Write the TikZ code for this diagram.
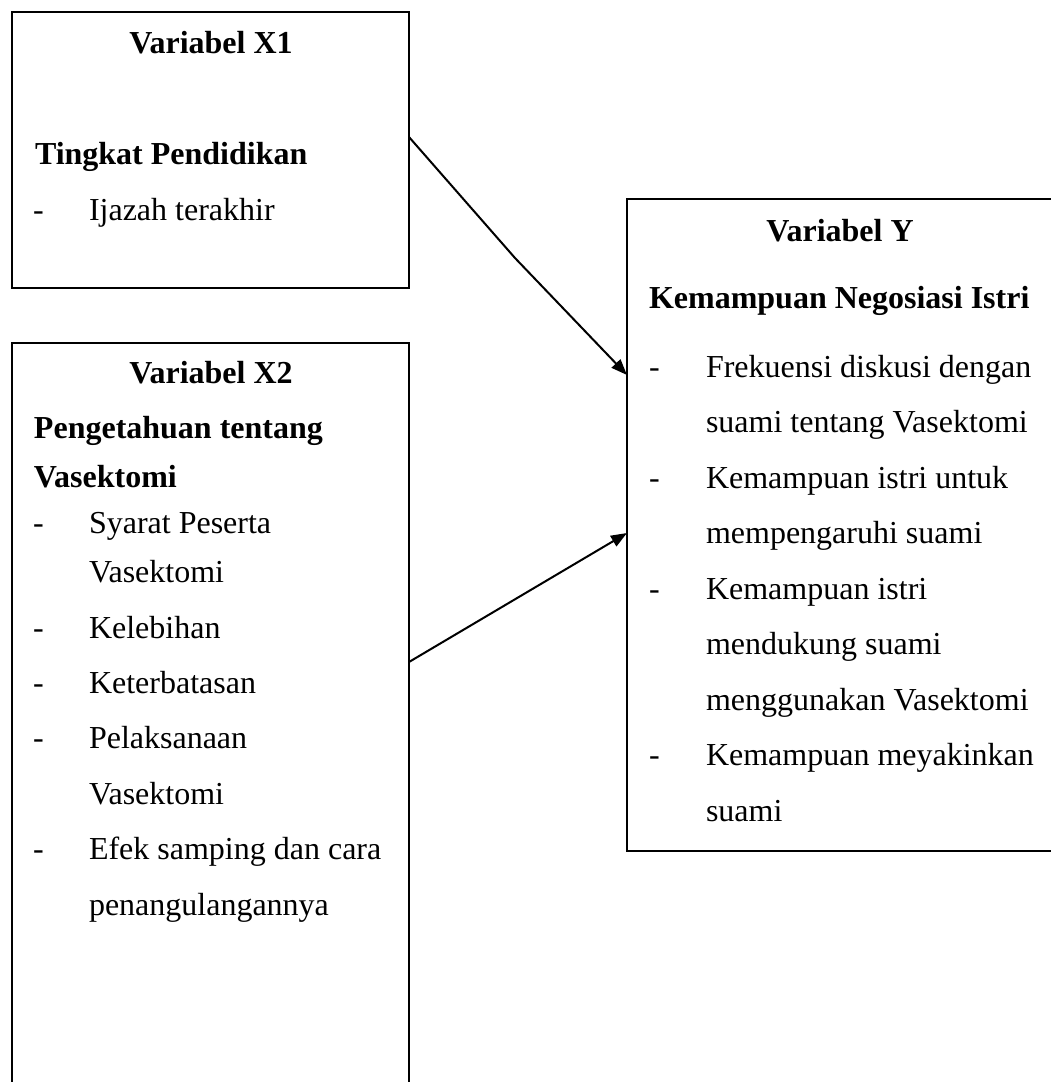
\documentclass[tikz,border=0pt]{standalone}
\usepackage{fontspec}
\setmainfont{Liberation Serif}
\usetikzlibrary{arrows.meta,calc}
\begin{document}
\begin{tikzpicture}[x=1pt,y=-1pt,
  box/.style={draw=black,line width=2pt,inner sep=0pt,outer sep=0pt,anchor=north west},
  txt/.style={inner sep=0pt,outer sep=0pt,anchor=base west,font=\fontsize{32pt}{38pt}\selectfont},
  ttl/.style={txt,anchor=base,font=\fontsize{32pt}{38pt}\selectfont\bfseries},
  hd/.style={txt,font=\fontsize{32pt}{38pt}\selectfont\bfseries},
  conn/.style={line width=2pt,-{Triangle[length=16pt,width=12pt]}}]
\useasboundingbox (0,0) rectangle (1051,1082);
\clip (0,0) rectangle (1051,1082);
\fill[white] (0,0) rectangle (1051,1082);
% boxes
\node[box,minimum width=397pt,minimum height=276pt] (x1) at (12,12) {};
\node[box,minimum width=397pt,minimum height=770pt] (x2) at (12,343) {};
\node[box,minimum width=440pt,minimum height=652pt] (y) at (627,199) {};
% X1 text
\node[ttl] (x1t) at (211,53) {Variabel X1};
\node[hd] (x1h) at (35,164) {Tingkat Pendidikan};
\node[txt] (x1d1) at (33,220) {-};
\node[txt] (x1i1) at (89,220) {Ijazah terakhir};
% X2 text
\node[ttl] (x2t) at (211,383) {Variabel X2};
\node[hd] (x2h1) at (34,438) {Pengetahuan tentang};
\node[hd] (x2h2) at (34,487) {Vasektomi};
\node[txt] (x2d1) at (33,533) {-};
\node[txt] (x2i1) at (89,533) {Syarat Peserta};
\node[txt] (x2i1b) at (89,582) {Vasektomi};
\node[txt] (x2d2) at (33,638) {-};
\node[txt] (x2i2) at (89,638) {Kelebihan};
\node[txt] (x2d3) at (33,693) {-};
\node[txt] (x2i3) at (89,693) {Keterbatasan};
\node[txt] (x2d4) at (33,748) {-};
\node[txt] (x2i4) at (89,748) {Pelaksanaan};
\node[txt] (x2i4b) at (89,804) {Vasektomi};
\node[txt] (x2d5) at (33,859) {-};
\node[txt] (x2i5) at (89,859) {Efek samping dan cara};
\node[txt] (x2i5b) at (89,915) {penangulangannya};
% Y text
\node[ttl] (yt) at (840,241) {Variabel Y};
\node[hd] (yh) at (649,308) {Kemampuan Negosiasi Istri};
\node[txt] (yd1) at (649,377) {-};
\node[txt] (yi1) at (706,377) {Frekuensi diskusi dengan};
\node[txt] (yi1b) at (706,432.5) {suami tentang Vasektomi};
\node[txt] (yd2) at (649,488) {-};
\node[txt] (yi2) at (706,488) {Kemampuan istri untuk};
\node[txt] (yi2b) at (706,543.5) {mempengaruhi suami};
\node[txt] (yd3) at (649,599) {-};
\node[txt] (yi3) at (706,599) {Kemampuan istri};
\node[txt] (yi3b) at (706,654.5) {mendukung suami};
\node[txt] (yi3c) at (706,710) {menggunakan Vasektomi};
\node[txt] (yd4) at (649,765.5) {-};
\node[txt] (yi4) at (706,765.5) {Kemampuan meyakinkan};
\node[txt] (yi4b) at (706,821) {suami};
% connectors
\coordinate (bend) at (515,258);
\draw[conn] ($(x1.north east)+(0,125)$) -- (bend) -- ($(y.north west)+(0,176)$);
\draw[conn] ($(x2.north east)+(0,319)$) -- ($(y.north west)+(0,334)$);
\end{tikzpicture}
\end{document}
